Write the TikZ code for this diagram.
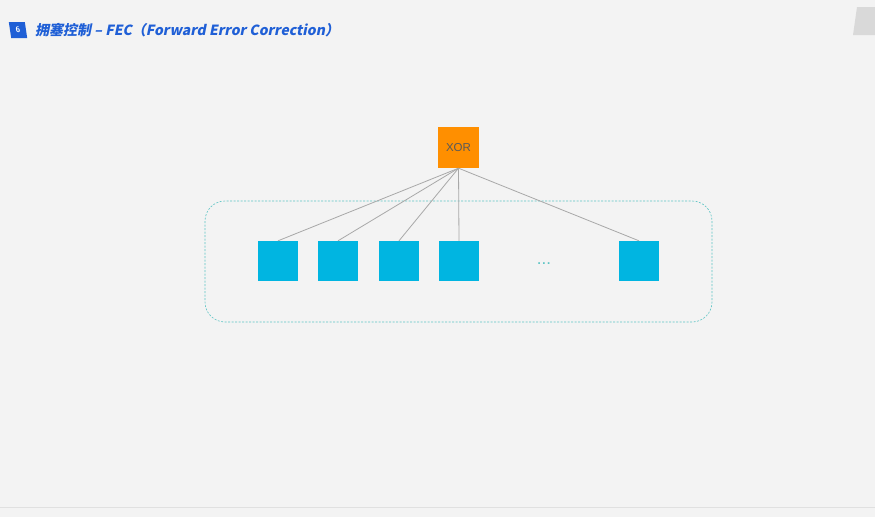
\documentclass[tikz,border=0pt]{standalone}
\usepackage{fontspec}
\setmainfont{Liberation Sans}
\newfontfamily\cjk[BoldFeatures={FakeSlant=0.2}]{Noto Sans CJK SC}
\definecolor{bg}{HTML}{F3F3F3}
\definecolor{titleblue}{HTML}{1F5FD6}
\definecolor{xororange}{HTML}{FF8F00}
\definecolor{boxblue}{HTML}{00B5E1}
\definecolor{dashteal}{HTML}{5CC4C4}
\definecolor{linegrey}{HTML}{A8A8A8}
\tikzset{
  sq/.style={fill=boxblue, draw=none, minimum width=40pt, minimum height=40pt, inner sep=0pt},
  link/.style={draw=linegrey, line width=0.8pt},
}
\begin{document}
\begin{tikzpicture}[x=1pt,y=-1pt]
\fill[bg] (0,0) rectangle (875,517);
\useasboundingbox (0,0) rectangle (875,517);
% title
\node[fill=titleblue, minimum width=16pt, minimum height=16pt, inner sep=0pt, xslant=-0.15, text=white, font=\sffamily\bfseries\fontsize{8}{9}\selectfont] (badge) at (18,30) {6};
\node[anchor=west, inner sep=0pt, text=titleblue, font=\cjk\bfseries\fontsize{14}{16}\selectfont] (title) at (35,30) {拥塞控制 – FEC（Forward Error Correction）};
% top-right tab
\fill[black!15] (857,7) -- (875,7) -- (875,35) -- (853,35) -- cycle;
% bottom line
\draw[black!12, line width=1pt] (0,507) -- (875,507);
% dashed group
\draw[dashteal, dashed, dash pattern=on 2pt off 1.5pt, line width=0.6pt, rounded corners=20pt] (205,201) rectangle (712,322);
% XOR
\node[fill=xororange, minimum width=41pt, minimum height=41pt, inner sep=0pt, text=black!65, font=\fontsize{11.5}{13}\selectfont] (xor) at (458.5,147.5) {XOR};
% squares
\node[sq] (s1) at (278,261) {};
\node[sq] (s2) at (338,261) {};
\node[sq] (s3) at (399,261) {};
\node[sq] (s4) at (459,261) {};
\node[sq] (s5) at (639,261) {};
\node[text=dashteal, font=\fontsize{17}{18}\selectfont, inner sep=0pt, anchor=base] (dots) at (544,264) {...};
% links
\foreach \s in {s1,s2,s3,s4,s5}
  \draw[link] (xor.south) -- (\s.north);
\end{tikzpicture}
\end{document}
